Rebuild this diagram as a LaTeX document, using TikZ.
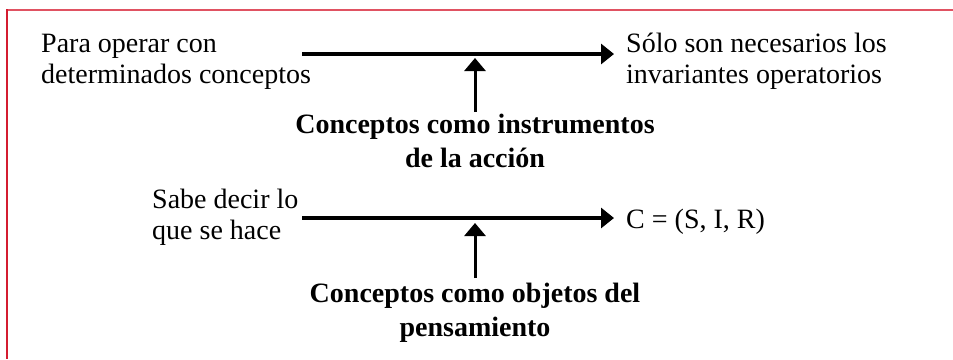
\documentclass[tikz,border=0pt]{standalone}
\usepackage{fontspec}
\setmainfont{Liberation Serif}
\usetikzlibrary{arrows.meta}
\definecolor{frametop}{RGB}{224,82,98}
\definecolor{frameleft}{RGB}{212,28,48}
\begin{document}
\begin{tikzpicture}[x=1pt,y=-1pt,
  txt/.style={inner sep=0pt, align=left, font=\fontsize{28}{31}\selectfont},
  rtxt/.style={inner xsep=12pt, inner ysep=0pt, align=left, font=\fontsize{28}{31}\selectfont},
  btxt/.style={inner sep=0pt, align=center, font=\fontsize{28}{34}\selectfont\bfseries},
  arr/.style={line width=3.2pt, -{Triangle[length=13pt,width=20pt]}},
  varr/.style={line width=3pt, -{Triangle[length=13pt,width=21pt]}}]
\useasboundingbox (0,0) rectangle (953,359);
% frame
\draw[frametop, line width=2pt] (6,10) -- (953,10);
\draw[frameleft, line width=2pt] (7,9) -- (7,359);
% top row
\node[txt, anchor=north west] (t1) at (41,32) {\rule{0pt}{20pt}Para operar con\\determinados conceptos};
\node[rtxt, anchor=north west] (t2) at (614,32) {\rule{0pt}{20pt}Sólo son necesarios los\\invariantes operatorios};
\coordinate (s1) at (302,54);
\draw[arr] (s1) -- (s1 -| t2.west);
\node[btxt, anchor=north] (b1) at (475,112) {\rule{0pt}{21pt}Conceptos como instrumentos\\de la acción};
\coordinate (tip1) at (475,58);
\draw[varr] (b1.north) -- (tip1);
% bottom row
\node[txt, anchor=north west] (t3) at (152,188) {\rule{0pt}{20pt}Sabe decir lo\\que se hace};
\node[rtxt, anchor=base west] (t4) at (614,228) {C = (S, I, R)};
\coordinate (s2) at (302,218);
\draw[arr] (s2) -- (s2 -| t4.west);
\node[btxt, anchor=north] (b2) at (475,278) {\rule{0pt}{24pt}Conceptos como objetos del\\pensamiento};
\coordinate (tip2) at (475,223);
\draw[varr] (b2.north) -- (tip2);
\end{tikzpicture}
\end{document}
